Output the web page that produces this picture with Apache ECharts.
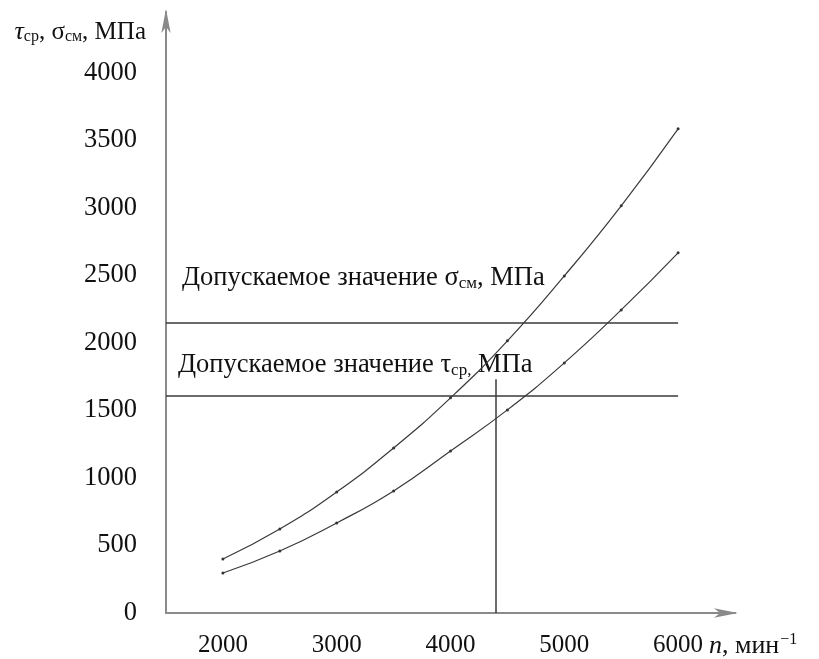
<!DOCTYPE html>
<html>
<head>
<meta charset="utf-8">
<script src="https://cdn.jsdelivr.net/npm/echarts@6/dist/echarts.min.js"></script>
<style>
html,body{margin:0;padding:0;background:#fff;}
#chart{width:819px;height:659px;}
</style>
</head>
<body>
<div id="chart"></div>
<script>
// n, min^-1
var speeds = [2000, 2500, 3000, 3500, 4000, 4500, 5000, 5500, 6000];
// sigma_cm (upper curve), MPa
var sigmaValues = [400, 622, 896, 1222, 1593, 2015, 2496, 3015, 3585];
// tau_cp (lower curve), MPa
var tauValues = [296, 459, 667, 904, 1200, 1504, 1852, 2244, 2667];
// allowed values
var allowedSigma = 2150;
var allowedTau = 1610;
// vertical marker
var markSpeed = 4400;
var markTop = 1730;
// tick labels
var xTickLabels = [2000, 3000, 4000, 5000, 6000];
var yTickLabels = [0, 500, 1000, 1500, 2000, 2500, 3000, 3500, 4000];

var FONT = '"Liberation Serif", "Times New Roman", serif';
var chart = echarts.init(document.getElementById('chart'), null, {renderer: 'canvas'});

function pairs(xs, ys) { return xs.map(function (x, i) { return [x, ys[i]]; }); }

var lineStyle = {color: '#3a3a3a', width: 1.2};
var refLine = {color: '#3a3a3a', width: 1.5, type: 'solid'};

var option = {
  animation: false,
  backgroundColor: '#fff',
  grid: {left: 166, right: 84, top: 12, bottom: 46, containLabel: false},
  xAxis: {
    type: 'value', min: 1500, max: 6500, interval: 500,
    splitLine: {show: false},
    axisTick: {show: false},
    axisLine: {show: true, lineStyle: {color: '#8a8a8a', width: 2},
      symbol: ['none', 'arrow'], symbolSize: [7, 24], symbolOffset: [0, 3]},
    axisLabel: {
      margin: 20, fontFamily: FONT, fontSize: 25, color: '#111', lineHeight: 25,
      formatter: function (v) { return xTickLabels.indexOf(v) >= 0 ? String(v) : ''; }
    },
    name: '{it|n}, мин{sup|−1}',
    nameLocation: 'end', nameGap: -28,
    nameTextStyle: {
      fontFamily: FONT, fontSize: 26, color: '#111', align: 'left', verticalAlign: 'top',
      padding: [19, 0, 0, 0],
      rich: {
        it: {fontFamily: FONT, fontSize: 26, fontStyle: 'italic', color: '#111'},
        sup: {fontFamily: FONT, fontSize: 16, color: '#111', padding: [0, 0, 12, 1]}
      }
    }
  },
  yAxis: {
    type: 'value', min: 0, max: 4450, interval: 500,
    splitLine: {show: false},
    axisTick: {show: false},
    axisLine: {show: true, lineStyle: {color: '#8a8a8a', width: 2},
      symbol: ['none', 'arrow'], symbolSize: [7, 24], symbolOffset: [0, 3]},
    axisLabel: {
      margin: 29, fontFamily: FONT, fontSize: 26.5, color: '#111', padding: [10, 0, 0, 0],
      formatter: function (v) { return yTickLabels.indexOf(v) >= 0 ? String(v) : ''; }
    },
    name: '{it|τ}{sub|ср}, σ{sub|см}, МПа',
    nameLocation: 'end', nameGap: -20,
    nameTextStyle: {
      fontFamily: FONT, fontSize: 25, color: '#111', align: 'right', verticalAlign: 'middle',
      padding: [0, 20, 0, 0],
      rich: {
        it: {fontFamily: FONT, fontSize: 26, fontStyle: 'italic', color: '#111'},
        sub: {fontFamily: FONT, fontSize: 16, color: '#111', padding: [10, 0, 0, 0]}
      }
    }
  },
  series: [
    {
      name: 'σсм', type: 'line', smooth: true,
      data: pairs(speeds, sigmaValues),
      symbol: 'circle', symbolSize: 3, itemStyle: {color: '#333'},
      lineStyle: lineStyle,
      markLine: {
        silent: true, symbol: ['none', 'none'], label: {show: false}, lineStyle: refLine,
        data: [[{coord: [1500, allowedSigma]}, {coord: [6000, allowedSigma]}],
               [{coord: [1500, allowedTau]}, {coord: [6000, allowedTau]}]]
      }
    },
    {
      name: 'τср', type: 'line', smooth: true,
      data: pairs(speeds, tauValues),
      symbol: 'circle', symbolSize: 3, itemStyle: {color: '#333'},
      lineStyle: lineStyle,
      markLine: {
        silent: true, symbol: ['none', 'none'], label: {show: false}, lineStyle: refLine,
        data: [[{coord: [markSpeed, 0]}, {coord: [markSpeed, markTop]}]]
      }
    }
  ]
};
chart.setOption(option);

var pS = chart.convertToPixel({xAxisIndex: 0, yAxisIndex: 0}, [1500, allowedSigma]);
var pT = chart.convertToPixel({xAxisIndex: 0, yAxisIndex: 0}, [1500, allowedTau]);
var txtRich = {
  sub: {fontFamily: FONT, fontSize: 17, fill: '#111', padding: [10, 0, 0, 0]}
};
chart.setOption({
  graphic: [
    {type: 'text', left: pS[0] + 16, top: pS[1] - 58,
      style: {text: 'Допускаемое значение σ{sub|см}, МПа', fontFamily: FONT, fontSize: 26.5, fill: '#111', rich: txtRich}},
    {type: 'text', left: pT[0] + 12, top: pT[1] - 44,
      style: {text: 'Допускаемое значение τ{sub|ср,} МПа', fontFamily: FONT, fontSize: 26.5, fill: '#111', rich: txtRich}}
  ]
});
</script>
</body>
</html>
